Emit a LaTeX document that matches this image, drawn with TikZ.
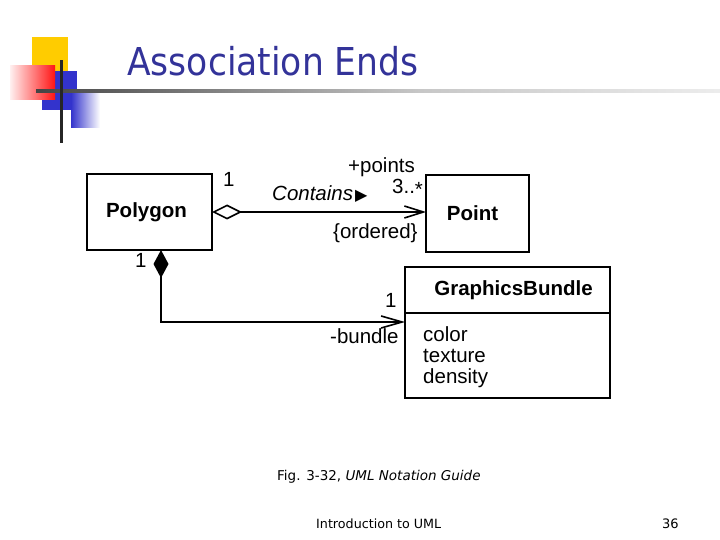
\documentclass[tikz,border=0pt]{standalone}
\usepackage{fontspec}
\setmainfont{Liberation Sans}
\newfontfamily\titlefont[FakeStretch=0.9]{DejaVu Sans}
\newfontfamily\footfont{DejaVu Sans}
\newfontfamily\symfont{DejaVu Sans}
\usepackage{tikz}
\usetikzlibrary{positioning, arrows.meta, shadings}

\definecolor{titleblue}{RGB}{51,51,153}
\definecolor{logoyellow}{RGB}{255,204,0}
\definecolor{logoblue}{RGB}{51,51,204}
\definecolor{logored}{RGB}{255,20,20}

\pgfdeclarehorizontalshading{rulefade}{100bp}{color(0bp)=(black!90); color(24bp)=(black!75); color(53bp)=(black!22); color(77bp)=(black!6); color(100bp)=(white)}

\begin{document}
\begin{tikzpicture}[
    x=1pt, y=-1pt,
    umlbox/.style={draw, line width=1.8pt, outer sep=0pt, inner sep=0pt, font=\bfseries\fontsize{20.5}{24}\selectfont},
    lbl/.style={inner sep=0pt, anchor=base west, font=\fontsize{20.5}{24}\selectfont},
    assoc/.style={line width=1.6pt},
    footer/.style={inner sep=0pt, anchor=base west, font=\footfont\fontsize{13}{15}\selectfont}
]

\useasboundingbox (0,0) rectangle (720,540);

% Dimensions
\def\attrgap{21}

% Logo in the corner
\fill[logoyellow] (32,37) rectangle (68,71);
\fill[logoblue] (42,71) rectangle (77,110);
\shade[left color=logoblue, right color=white] (71,92) rectangle (100,128);
\shade[left color=red!6, right color=logored] (10,66) rectangle (55,100);
\shade[shading=rulefade] (36,89.5) rectangle (720,92.5);
\fill[black!85] (59.5,60) rectangle (62.5,143);

% Title
\node[anchor=base west, inner sep=0pt, text=titleblue, font=\titlefont\fontsize{38.4}{42}\selectfont] (title) at (127,76) {Association Ends};

% Classes
\node[umlbox, minimum width=125pt, minimum height=76pt] (polygon) at (149.5,212) {Polygon\hspace*{6pt}};
\node[umlbox, minimum width=103pt, minimum height=77pt] (point) at (477.5,213.5) {Point\hspace*{10pt}};
\node[umlbox, minimum width=205pt, minimum height=46pt] (gbhead) at (507.5,290) {\hspace*{12pt}GraphicsBundle};
\node[umlbox, minimum width=205pt, minimum height=85pt, below=0pt of gbhead] (gbbody) {};

% Attributes of the bundle
\foreach \attr [count=\i] in {color,texture,density}
    \node[lbl] (attr\i) at (423, 320+\attrgap*\i) {\attr};

% Association ends
\node[lbl] (mult1) at (223,187) {1};
\node[lbl] (rolepts) at (348,172.5) {+points};
\node[lbl] (multpts) at (392,193.5) {3..\raisebox{-3pt}{*}};
\node[lbl] (assocname) at (272,201) {\itshape Contains\kern2pt{\upshape\symfont\fontsize{16}{16}\selectfont ▶}};
\node[lbl] (constr) at (333,239) {\{ordered\}};
\node[lbl] (mult2) at (135,267) {1};
\node[lbl] (mult3) at (385,307) {1};
\node[lbl] (rolebdl) at (330,343) {-bundle};

% Aggregation Polygon -> Point
\draw[assoc, {Diamond[open, length=30pt, width=15pt]}-{Straight Barb[length=19pt, width=12pt]}] (polygon.east) -- (polygon.east -| point.west);

% Composition Polygon -> GraphicsBundle
\coordinate (bend) at (161,322);
\draw[assoc, {Diamond[length=28pt, width=15pt]}-{Straight Barb[length=21pt, width=12pt]}] (polygon.south -| bend) -- (bend) -- (bend -| gbbody.west);

% Footer
\node[footer, font=\footfont\fontsize{13.5}{15}\selectfont] (caption) at (277,480) {Fig. 3-32, \textit{UML Notation Guide}};
\node[footer, font=\footfont\fontsize{12.7}{15}\selectfont] (course) at (316,528) {Introduction to UML};
\node[footer] (pagenum) at (662,528) {36};

\end{tikzpicture}
\end{document}
